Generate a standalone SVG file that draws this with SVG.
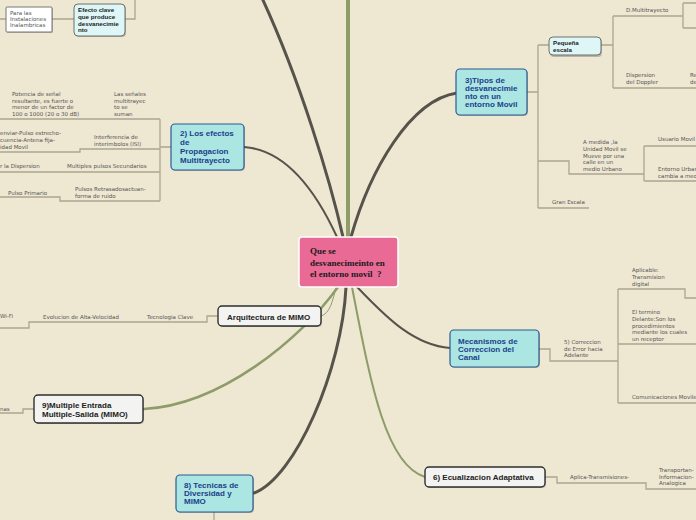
<svg xmlns="http://www.w3.org/2000/svg" width="696" height="520" viewBox="0 0 696 520">
<defs>
<style>
.bg{fill:#eee7d2}
.br{fill:none;stroke:#aca690;stroke-width:1.3}
.dk{fill:none;stroke:#55534a;stroke-linecap:round}
.gr{fill:none;stroke:#8e9c6a;stroke-linecap:round}
.t{font-family:"DejaVu Sans",Verdana,sans-serif;font-size:5.5px;fill:#555}
.cy rect.b{fill:#abe6e2;stroke:#2d5a93;stroke-width:1.2}
.cy text{font-family:"Liberation Sans",Arial,sans-serif;font-size:8px;font-weight:bold;fill:#1c3f8c}
.lc rect.b{fill:#def6f6;stroke:#6b7070;stroke-width:1}
.lc text{font-family:"Liberation Sans",Arial,sans-serif;font-size:6.2px;font-weight:bold;fill:#222}
.wh rect.b{fill:#f3f3f1;stroke:#2f2f2f;stroke-width:1.4}
.wh text{font-family:"Liberation Sans",Arial,sans-serif;font-size:8px;font-weight:bold;fill:#222}
.sh{fill:#000;opacity:0.22}
</style>
</defs>
<rect class="bg" x="0" y="0" width="696" height="520"/>

<g id="connectors">
<path class="dk" stroke-width="3" d="M343,237 C330,180 300,80 262,-2"/>
<path class="gr" stroke-width="4" d="M348,237 L348,-2"/>
<path class="dk" stroke-width="3" d="M351,237 C370,170 410,100 457,93"/>
<path class="dk" stroke-width="2" d="M244,147 C290,150 320,200 337,237"/>
<path class="gr" stroke-width="1" d="M336,287 C333,300 330,314 321,316"/>
<path class="gr" stroke-width="2.5" d="M338,287 C300,340 220,405 144,409"/>
<path class="dk" stroke-width="3" d="M346,287 C342,370 295,478 254,493"/>
<path class="gr" stroke-width="2" d="M352,287 C370,380 385,465 425,477"/>
<path class="dk" stroke-width="2" d="M357,287 C380,310 410,345 450,348"/>

<path class="br" d="M0,19 H6 M52,19 H74 M125,19 H135 V-1"/>
<path class="br" d="M171,147 H160 M160,119 V201 M0,119 H160 M0,152 H80 V149 H160 M0,172 H160 M0,197 H60 V201 H160"/>
<path class="br" d="M527,92 H538 M538,45 V208 M538,45 H549 M601,45 H613 M613,16 V88 M613,16 H683 M683,3 V28 M683,3 H697 M683,28 H697 M613,88 H697 M538,161 H569 V174 H644 M644,146 V181 M644,146 H697 M644,181 H697 M538,208 H589"/>
<path class="br" d="M539,349 H550 V361 H618 M618,289 V403 M618,289 H685 V298 H697 M618,344 H697 M618,403 H697"/>
<path class="br" d="M545,477 H557 V483 H646 V489 H697"/>
<path class="br" d="M34,409 H23 V413 H-1"/>
<path class="br" d="M218,316 H207 V322 H29 V328 H-1"/>
<path class="br" d="M214,511 V521"/>
</g>

<g id="branch-texts">
<text class="t" x="12" y="96">Potencia de señal</text>
<text class="t" x="12" y="102.5">resultante, es fuerte o</text>
<text class="t" x="12" y="109">menor de un factor de</text>
<text class="t" x="12" y="116">100 o 1000 (20 o 30 dB)</text>
<text class="t" x="114" y="96">Las señales</text>
<text class="t" x="114" y="102.5">multitrayec</text>
<text class="t" x="114" y="109">to se</text>
<text class="t" x="114" y="116">suman</text>
<text class="t" x="0" y="135">enviar-Pulso estrecho-</text>
<text class="t" x="0" y="142">cuencia-Antena fija-</text>
<text class="t" x="0" y="148.5">idad Movil</text>
<text class="t" x="94" y="139">Interferencia de</text>
<text class="t" x="94" y="146">interimbolos (ISI)</text>
<text class="t" x="0" y="168">r la Dispersion</text>
<text class="t" x="67" y="168">Multiples pulsos Secundarios</text>
<text class="t" x="8" y="194.5">Pulso Primario</text>
<text class="t" x="75" y="191">Pulsos Retrasadosactuan-</text>
<text class="t" x="75" y="198">forma de ruido</text>

<text class="t" x="626" y="12">D.Multitrayecto</text>
<text class="t" x="626" y="77">Dispersion</text>
<text class="t" x="626" y="84">del Doppler</text>
<text class="t" x="690" y="77">Re</text>
<text class="t" x="690" y="84">de</text>
<text class="t" x="583" y="144">A medida ,la</text>
<text class="t" x="583" y="151">Unidad Movil se</text>
<text class="t" x="583" y="157.5">Mueve por una</text>
<text class="t" x="583" y="164">calle en un</text>
<text class="t" x="583" y="170.5">medio Urbano</text>
<text class="t" x="658" y="141">Usuario Movil</text>
<text class="t" x="658" y="171">Entorno Urbano</text>
<text class="t" x="658" y="177.5">cambia a medi</text>
<text class="t" x="552" y="204">Gran Escala</text>

<text class="t" x="632" y="272">Aplicable:</text>
<text class="t" x="632" y="279">Transmision</text>
<text class="t" x="632" y="285.5">digital</text>
<text class="t" x="632" y="314">El termino</text>
<text class="t" x="632" y="321">Delante:Son los</text>
<text class="t" x="632" y="327.5">procedimientos</text>
<text class="t" x="632" y="334">mediante los cuales</text>
<text class="t" x="632" y="340.5">un receptor</text>
<text class="t" x="632" y="399">Comunicaciones Moviles</text>
<text class="t" x="564" y="344">5) Correccion</text>
<text class="t" x="564" y="350.5">de Error hacia</text>
<text class="t" x="564" y="357">Adelante</text>

<text class="t" x="570" y="479">Aplica-Transmisiones-</text>
<text class="t" x="659" y="472">Transportan-</text>
<text class="t" x="659" y="478.5">Informacion-</text>
<text class="t" x="659" y="485">Analogica</text>

<text class="t" x="0" y="411">nas</text>
<text class="t" x="0" y="318">Wi-Fi</text>
<text class="t" x="43" y="319">Evolucion de Alta-Velocidad</text>
<text class="t" x="147" y="319">Tecnologia Clave</text>
</g>

<g id="n-instalaciones">
<rect class="sh" x="7" y="8" width="46" height="25" rx="1"/>
<rect x="6" y="7" width="46" height="25" rx="1" fill="#ffffff" stroke="#777" stroke-width="1"/>
<text class="t" x="10" y="15" fill="#444">Para las</text>
<text class="t" x="10" y="21" fill="#444">Instalaciones</text>
<text class="t" x="10" y="27" fill="#444">Inalambricas</text>
</g>

<g id="n-efecto" class="lc">
<rect class="sh" x="75" y="5" width="51" height="32" rx="4"/>
<rect class="b" x="74" y="4" width="51" height="32" rx="4"/>
<text x="78" y="12">Efecto clave</text>
<text x="78" y="19">que produce</text>
<text x="78" y="25.5">desvanecimie</text>
<text x="78" y="32">nto</text>
</g>

<g id="n-efectos" class="cy">
<rect class="sh" x="172" y="125" width="73" height="46" rx="4"/>
<rect class="b" x="171" y="124" width="73" height="46" rx="4"/>
<text x="180" y="136">2) Los efectos</text>
<text x="180" y="145">de</text>
<text x="180" y="154">Propagacion</text>
<text x="180" y="163">Multitrayecto</text>
</g>

<g id="n-tipos" class="cy">
<rect class="sh" x="457" y="70" width="71" height="46" rx="4"/>
<rect class="b" x="456" y="69" width="71" height="46" rx="4"/>
<text x="465" y="83">3)Tipos de</text>
<text x="465" y="91">desvanecimie</text>
<text x="465" y="99">nto en un</text>
<text x="465" y="107">entorno Movil</text>
</g>

<g id="n-pequena" class="lc">
<rect class="sh" x="550" y="38" width="52" height="19" rx="4"/>
<rect class="b" x="549" y="37" width="52" height="18" rx="4"/>
<text x="553" y="44.5">Pequeña</text>
<text x="553" y="51.5">escala</text>
</g>

<g id="n-central">
<rect x="299" y="237" width="99" height="50" rx="3" fill="#e96a95" stroke="#ffffff" stroke-width="1.5"/>
<text x="310" y="254" font-family="'Liberation Serif','Times New Roman',serif" font-size="9" font-weight="bold" fill="#1a1a1a">Que se</text>
<text x="310" y="266" font-family="'Liberation Serif','Times New Roman',serif" font-size="9" font-weight="bold" fill="#1a1a1a">desvanecimeinto en</text>
<text x="310" y="277" font-family="'Liberation Serif','Times New Roman',serif" font-size="9" font-weight="bold" fill="#1a1a1a" xml:space="preserve">el entorno movil  ?</text>
</g>

<g id="n-arquitectura" class="wh">
<rect class="sh" x="219" y="307" width="103" height="20" rx="4"/>
<rect class="b" x="218" y="306" width="103" height="20" rx="4"/>
<text x="227" y="319.5">Arquitectura de MIMO</text>
</g>

<g id="n-mimo" class="wh">
<rect class="sh" x="35" y="396" width="109" height="28" rx="4"/>
<rect class="b" x="34" y="395" width="109" height="28" rx="4"/>
<text x="42" y="408">9)Multiple Entrada</text>
<text x="42" y="417">Multiple-Salida (MIMO)</text>
</g>

<g id="n-mecanismos" class="cy">
<rect class="sh" x="451" y="331" width="89" height="37" rx="4"/>
<rect class="b" x="450" y="330" width="89" height="37" rx="4"/>
<text x="458" y="344">Mecanismos de</text>
<text x="458" y="352">Correccion del</text>
<text x="458" y="360">Canal</text>
</g>

<g id="n-ecualizacion" class="wh">
<rect class="sh" x="426" y="468" width="120" height="20" rx="4"/>
<rect class="b" x="425" y="467" width="120" height="20" rx="4"/>
<text x="433" y="480">6) Ecualizacion Adaptativa</text>
</g>

<g id="n-tecnicas" class="cy">
<rect class="sh" x="177" y="476" width="77" height="37" rx="4"/>
<rect class="b" x="176" y="475" width="77" height="37" rx="4"/>
<text x="184" y="488">8) Tecnicas de</text>
<text x="184" y="496">Diversidad y</text>
<text x="184" y="504">MIMO</text>
</g>
</svg>
